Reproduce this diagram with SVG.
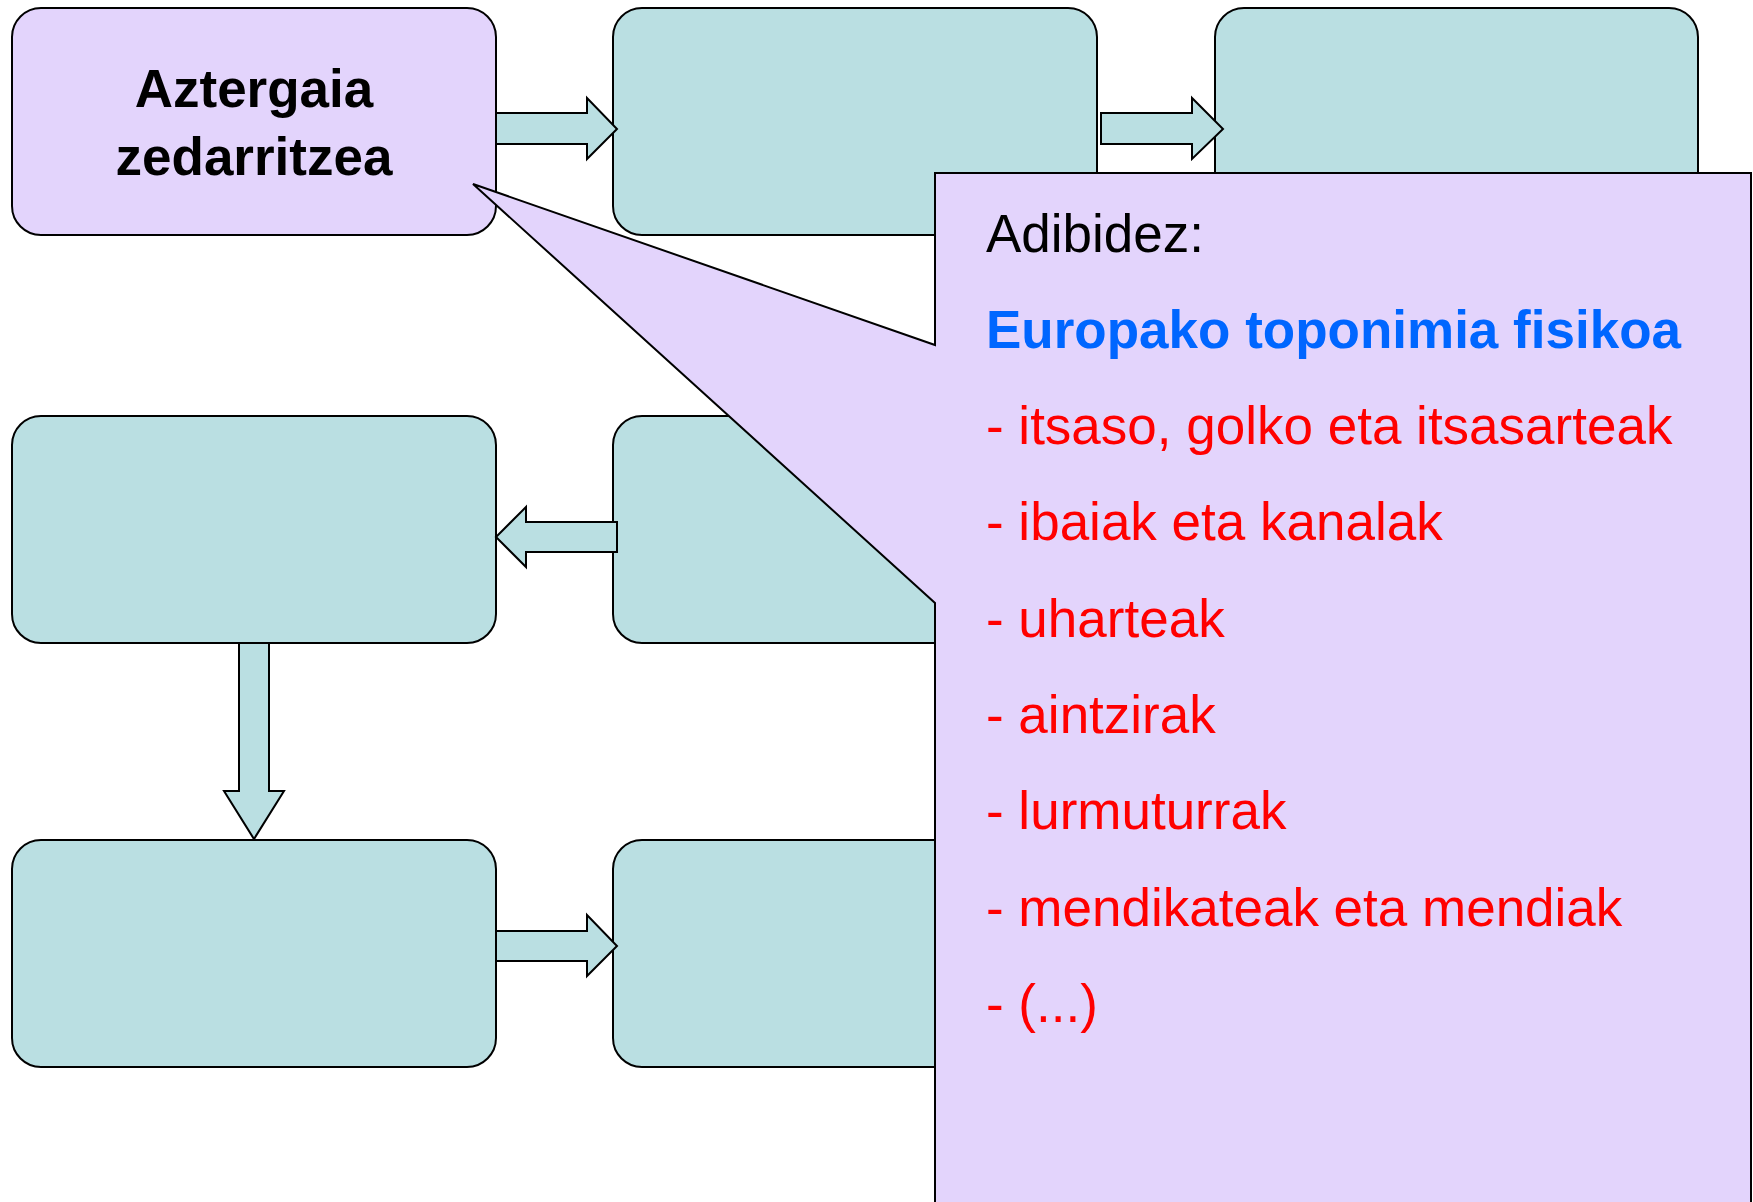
<svg xmlns="http://www.w3.org/2000/svg" width="1753" height="1202" viewBox="0 0 1753 1202">
  <style>
    .box { fill: #BADFE2; stroke: #000; stroke-width: 2; }
    .topic { fill: #E3D4FC; stroke: #000; stroke-width: 2; }
    .arrow { fill: #BADFE2; stroke: #000; stroke-width: 2; stroke-linejoin: miter; }
    .callout { fill: #E3D4FC; stroke: #000; stroke-width: 2; stroke-linejoin: miter; }
    .title { font-family: "Liberation Sans", Arial, sans-serif; font-weight: bold; font-size: 53px; fill: #000; text-anchor: middle; }
    .txt { font-family: "Liberation Sans", Arial, sans-serif; font-size: 53px; }
    .head { fill: #000; }
    .sub { fill: #0066FF; font-weight: bold; }
    .item { fill: #FF0000; }
  </style>

  <!-- flow steps -->
  <g id="step-topic">
    <rect class="topic" x="12" y="8" width="484" height="227" rx="29" ry="29"/>
    <text class="title" x="254" y="107">Aztergaia</text>
    <text class="title" x="254" y="175">zedarritzea</text>
  </g>
  <g id="step-2"><rect class="box" x="613" y="8" width="484" height="227" rx="29" ry="29"/></g>
  <g id="step-3"><rect class="box" x="1215" y="8" width="483" height="227" rx="29" ry="29"/></g>
  <g id="step-4"><rect class="box" x="12" y="416" width="484" height="227" rx="29" ry="29"/></g>
  <g id="step-5"><rect class="box" x="613" y="416" width="484" height="227" rx="29" ry="29"/></g>
  <g id="step-6"><rect class="box" x="12" y="840" width="484" height="227" rx="29" ry="29"/></g>
  <g id="step-7"><rect class="box" x="613" y="840" width="484" height="227" rx="29" ry="29"/></g>

  <!-- block arrows between steps -->
  <g id="connectors">
    <polygon class="arrow" points="496,113 587,113 587,98 617,129 587,159 587,144 496,144"/>
    <polygon class="arrow" points="1101,113 1192,113 1192,98 1223,129 1192,159 1192,144 1101,144"/>
    <polygon class="arrow" points="617,522 526,522 526,507 496,537 526,567 526,552 617,552"/>
    <polygon class="arrow" points="239,643 269,643 269,791 284,791 254,839 224,791 239,791"/>
    <polygon class="arrow" points="496,931 587,931 587,915 617,946 587,976 587,961 496,961"/>
  </g>

  <!-- example callout pointing at the topic step -->
  <g id="example-callout">
    <path class="callout" d="M935,173 H1751 V1212 H935 V603 L473,184 L935,345 Z"/>
    <text class="txt head" x="986" y="252">Adibidez:</text>
    <text class="txt sub" x="986" y="347.5">Europako toponimia fisikoa</text>
    <text class="txt item" x="986" y="444">- itsaso, golko eta itsasarteak</text>
    <text class="txt item" x="986" y="540">- ibaiak eta kanalak</text>
    <text class="txt item" x="986" y="636.5">- uharteak</text>
    <text class="txt item" x="986" y="733">- aintzirak</text>
    <text class="txt item" x="986" y="829">- lurmuturrak</text>
    <text class="txt item" x="986" y="925.5">- mendikateak eta mendiak</text>
    <text class="txt item" x="986" y="1022">- (...)</text>
  </g>
</svg>
